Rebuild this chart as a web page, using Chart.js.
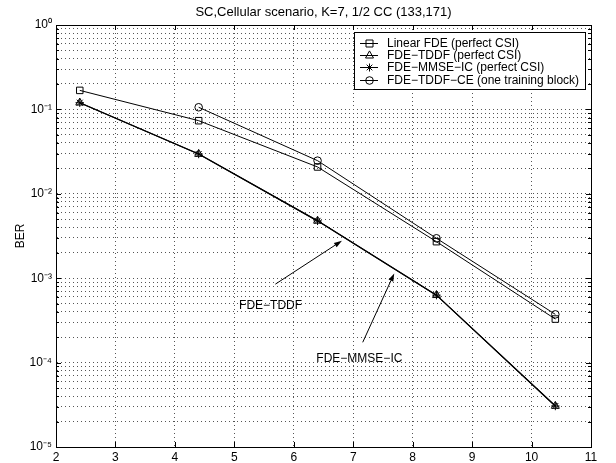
<!DOCTYPE html>
<html>
<head>
<meta charset="utf-8">
<script src="https://cdn.jsdelivr.net/npm/chart.js@4/dist/chart.umd.min.js"></script>
<style>
html,body{margin:0;padding:0;background:#fff;}
canvas{display:block;}
</style>
</head>
<body>
<canvas id="c" width="616" height="463"></canvas>
<script>
// ---- data ----
const chartTitle = 'SC,Cellular scenario, K=7, 1/2 CC (133,171)';
const yAxisTitle = 'BER';
const snrX = [2.4, 4.4, 6.4, 8.4, 10.4];
const seriesNames = ['Linear FDE (perfect CSI)', 'FDE\u2212TDDF (perfect CSI)', 'FDE\u2212MMSE\u2212IC (perfect CSI)', 'FDE\u2212TDDF\u2212CE (one training block)'];
const linearFde = [0.168, 0.0735, 0.0208, 0.00271, 0.000328];
const fdeTddf = [0.12, 0.0296, 0.00478, 0.00063, 0.0000306];
const fdeMmseIc = [0.12, 0.0296, 0.00478, 0.00063, 0.0000306];
const fdeTddfCe = [null, 0.106, 0.0247, 0.00297, 0.000373];
const xTicks = [2, 3, 4, 5, 6, 7, 8, 9, 10, 11];
const yDecades = [1, 0.1, 0.01, 0.001, 0.0001, 0.00001];
const yTickLabels = ['10\u2070', '10\u207B\u00B9', '10\u207B\u00B2', '10\u207B\u00B3', '10\u207B\u2074', '10\u207B\u2075'];
const yMinorFactors = [2, 3, 4, 5, 6, 7, 8, 9];
// annotations (data coordinates)
const annoTexts = ['FDE\u2212TDDF', 'FDE\u2212MMSE\u2212IC'];
const annoTextX = [5.08, 6.38];
const annoTextY = [0.00047, 0.000112];
const arrowFromX = [5.69, 7.16];
const arrowFromY = [0.00085, 0.000174];
const arrowToX = [6.81, 7.69];
const arrowToY = [0.00278, 0.00114];

const FONT = '"Liberation Sans", Arial, Helvetica, sans-serif';
const pointStyles = ['rect', 'triangle', 'star', 'circle'];
const pointRadii = [4.6, 4.6, 4.2, 3.8];
const lineWidths = [1, 1.2, 1.2, 1];
const seriesValues = [linearFde, fdeTddf, fdeMmseIc, fdeTddfCe];

const yGridValues = [];
yDecades.forEach(d => {
  yGridValues.push(d);
  if (d < 1) yMinorFactors.forEach(f => yGridValues.push(d * f));
});
yGridValues.sort((a, b) => a - b);

function decadeLabel(v) {
  for (let i = 0; i < yDecades.length; i++) {
    if (Math.abs(v - yDecades[i]) / yDecades[i] < 1e-6) return yTickLabels[i];
  }
  return '';
}
function isDecade(v) { return decadeLabel(v) !== ''; }

function drawMarker(ctx, style, x, y) {
  ctx.beginPath();
  if (style === 'rect') {
    ctx.rect(x - 3.5, y - 3.5, 7, 7);
    ctx.stroke();
  } else if (style === 'triangle') {
    ctx.moveTo(x, y - 4.6);
    ctx.lineTo(x + 4, y + 2.5);
    ctx.lineTo(x - 4, y + 2.5);
    ctx.closePath();
    ctx.stroke();
  } else if (style === 'star') {
    const r = 4;
    ctx.moveTo(x - r, y); ctx.lineTo(x + r, y);
    ctx.moveTo(x, y - r); ctx.lineTo(x, y + r);
    const d = r * 0.707;
    ctx.moveTo(x - d, y - d); ctx.lineTo(x + d, y + d);
    ctx.moveTo(x - d, y + d); ctx.lineTo(x + d, y - d);
    ctx.stroke();
  } else {
    ctx.arc(x, y, 3.8, 0, Math.PI * 2);
    ctx.stroke();
  }
}

const framePlugin = {
  id: 'framePlugin',
  afterDraw(chart) {
    const {ctx, chartArea: a, scales: {x, y}} = chart;
    ctx.save();
    ctx.strokeStyle = '#000';
    ctx.lineWidth = 1;
    ctx.beginPath();
    xTicks.forEach(v => {
      const px = Math.round(x.getPixelForValue(v)) + 0.5;
      ctx.moveTo(px, a.bottom); ctx.lineTo(px, a.bottom - 5);
      ctx.moveTo(px, a.top); ctx.lineTo(px, a.top + 5);
    });
    yGridValues.forEach(v => {
      const py = Math.round(y.getPixelForValue(v)) + 0.5;
      const len = isDecade(v) ? 5 : 3;
      ctx.moveTo(a.left, py); ctx.lineTo(a.left + len, py);
      ctx.moveTo(a.right, py); ctx.lineTo(a.right - len, py);
    });
    ctx.stroke();
    ctx.strokeRect(Math.round(a.left) + 0.5, Math.round(a.top) + 0.5, Math.round(a.right - a.left), Math.round(a.bottom - a.top));
    ctx.restore();
  }
};

const annoPlugin = {
  id: 'annoPlugin',
  afterDatasetsDraw(chart) {
    const {ctx, scales: {x, y}} = chart;
    ctx.save();
    ctx.strokeStyle = '#000';
    ctx.fillStyle = '#000';
    ctx.lineWidth = 1;
    for (let i = 0; i < annoTexts.length; i++) {
      const x1 = x.getPixelForValue(arrowFromX[i]), y1 = y.getPixelForValue(arrowFromY[i]);
      const x2 = x.getPixelForValue(arrowToX[i]), y2 = y.getPixelForValue(arrowToY[i]);
      const ang = Math.atan2(y2 - y1, x2 - x1);
      const hl = 8, hw = 2.6;
      const bx = x2 - hl * Math.cos(ang), by = y2 - hl * Math.sin(ang);
      ctx.beginPath();
      ctx.moveTo(x1, y1); ctx.lineTo(bx, by);
      ctx.stroke();
      ctx.beginPath();
      ctx.moveTo(x2, y2);
      ctx.lineTo(bx + hw * Math.sin(ang), by - hw * Math.cos(ang));
      ctx.lineTo(bx - hw * Math.sin(ang), by + hw * Math.cos(ang));
      ctx.closePath();
      ctx.fill();
      ctx.font = '12px ' + FONT;
      ctx.textAlign = 'left';
      ctx.textBaseline = 'middle';
      ctx.fillText(annoTexts[i], x.getPixelForValue(annoTextX[i]), y.getPixelForValue(annoTextY[i]));
    }
    ctx.restore();
  }
};

const legendPlugin = {
  id: 'legendPlugin',
  afterDraw(chart) {
    const {ctx, chartArea: a} = chart;
    const w = 231, h = 57;
    const x0 = Math.round(a.right) - 6 - w, y0 = Math.round(a.top) + 7;
    ctx.save();
    ctx.fillStyle = '#fff';
    ctx.fillRect(x0, y0, w, h);
    ctx.strokeStyle = '#000';
    ctx.lineWidth = 1;
    ctx.strokeRect(x0 + 0.5, y0 + 0.5, w, h);
    ctx.font = '12px ' + FONT;
    ctx.textAlign = 'left';
    ctx.textBaseline = 'middle';
    ctx.fillStyle = '#000';
    for (let i = 0; i < seriesNames.length; i++) {
      const ry = Math.round(y0 + 11 + i * 12.2) + 0.5;
      ctx.beginPath();
      ctx.moveTo(x0 + 6, ry); ctx.lineTo(x0 + 24, ry);
      ctx.stroke();
      drawMarker(ctx, pointStyles[i], x0 + 15.5, ry);
      ctx.fillText(seriesNames[i], x0 + 33, ry + 0.5);
    }
    ctx.restore();
  }
};

const datasets = seriesNames.map((name, i) => ({
  label: name,
  data: snrX.map((sx, j) => ({x: sx, y: seriesValues[i][j]})).filter(p => p.y !== null),
  borderColor: '#000',
  backgroundColor: 'rgba(0,0,0,0)',
  borderWidth: lineWidths[i],
  pointStyle: pointStyles[i],
  pointRadius: pointRadii[i],
  pointBorderWidth: 1,
  pointBorderColor: '#000',
  pointBackgroundColor: 'rgba(0,0,0,0)',
  tension: 0,
  fill: false
}));

new Chart(document.getElementById('c'), {
  type: 'line',
  data: {datasets},
  options: {
    responsive: false,
    animation: false,
    devicePixelRatio: 1,
    layout: {padding: {left: 0, right: 25, top: 0, bottom: 0}},
    plugins: {
      legend: {display: false},
      tooltip: {enabled: false},
      title: {
        display: true,
        text: chartTitle,
        fullSize: false,
        color: '#000',
        font: {family: FONT, size: 13, weight: 'normal'},
        padding: {top: 5, bottom: 4.4}
      }
    },
    scales: {
      x: {
        type: 'linear',
        min: 2, max: 11,
        afterBuildTicks(s) { s.ticks = xTicks.map(v => ({value: v})); },
        afterFit(s) { s.height = 16; },
        ticks: {color: '#000', font: {family: FONT, size: 12}, padding: 3, autoSkip: false, maxRotation: 0},
        grid: {color: '#555', lineWidth: 1, drawTicks: false},
        border: {display: true, color: '#000', width: 1, dash: [1, 3]}
      },
      y: {
        type: 'logarithmic',
        min: 0.00001, max: 1,
        afterBuildTicks(s) { s.ticks = yGridValues.map(v => ({value: v, major: isDecade(v)})); },
        afterFit(s) { s.width = 56; },
        ticks: {
          color: '#000', font: {family: FONT, size: 12}, padding: 4, autoSkip: false,
          callback: (v) => decadeLabel(v)
        },
        title: {display: true, text: yAxisTitle, color: '#000', font: {family: FONT, size: 12}, padding: {top: 13, bottom: 0}},
        grid: {color: '#555', lineWidth: 1, drawTicks: false},
        border: {display: true, color: '#000', width: 1, dash: [1, 3]}
      }
    }
  },
  plugins: [annoPlugin, framePlugin, legendPlugin]
});
</script>
</body>
</html>
